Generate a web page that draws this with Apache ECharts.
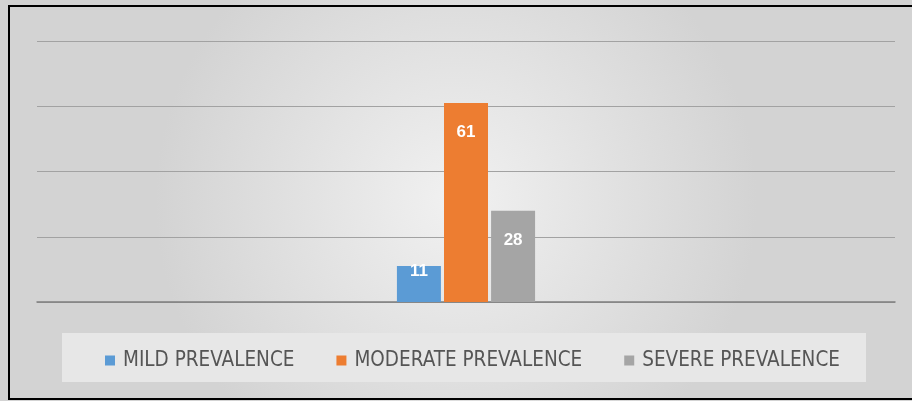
<!DOCTYPE html>
<html>
<head>
<meta charset="utf-8">
<script src="https://cdn.jsdelivr.net/npm/echarts@6/dist/echarts.min.js"></script>
<style>
html,body{margin:0;padding:0;background:#fff;}
#chart{width:912px;height:401px;}
</style>
</head>
<body>
<div id="chart"></div>
<script>
// DATA
const categories=[''];
const seriesNames=['MILD PREVALENCE','MODERATE PREVALENCE','SEVERE PREVALENCE'];
const mild=[11];
const moderate=[61];
const severe=[28];
const colors=['#5b9bd5','#ed7d31','#a5a5a5'];

const FONT='"Liberation Sans Narrow","DejaVu Sans Condensed",sans-serif';
const chart=echarts.init(document.getElementById('chart'),null,{renderer:'canvas'});

function barSeries(name,values,color,labelDist){
  return {
    name:name,type:'bar',data:values,barWidth:44,barGap:'7%',
    itemStyle:{color:color},
    label:{show:true,position:'insideTop',distance:labelDist,color:'#fff',
      fontWeight:'bold',fontSize:17,fontFamily:'"Liberation Sans",sans-serif'}
  };
}

chart.setOption({
  backgroundColor:{type:'radial',x:0.5,y:0.5,r:0.75,
    colorStops:[{offset:0,color:'#f1f1f1'},{offset:1,color:'#d3d3d3'}]},
  animation:false,
  graphic:[
    {type:'rect',shape:{x:62,y:333,width:804,height:49},style:{fill:'#e7e7e7'},z:-1},
    {type:'rect',shape:{x:9,y:6,width:912,height:393},style:{fill:'none',stroke:'#000',lineWidth:2},z:10}
  ],
  grid:{left:37,right:17,top:41,bottom:99},
  legend:{
    left:100,top:345,icon:'rect',itemWidth:10,itemHeight:10,itemGap:42,
    textStyle:{color:'#555555',fontSize:20.5,fontFamily:FONT,padding:[0,0,0,3]},
    data:seriesNames
  },
  xAxis:{type:'category',data:categories,
    axisLine:{lineStyle:{color:'#7f7f7f',width:1.5}},axisTick:{show:false},axisLabel:{show:false}},
  yAxis:{type:'value',min:0,max:80,interval:20,
    axisLabel:{show:false},axisLine:{show:false},axisTick:{show:false},
    splitLine:{lineStyle:{color:'#a2a2a2',width:1}}},
  series:[
    barSeries(seriesNames[0],mild,colors[0],-3),
    barSeries(seriesNames[1],moderate,colors[1],21),
    barSeries(seriesNames[2],severe,colors[2],21)
  ]
});
</script>
</body>
</html>
